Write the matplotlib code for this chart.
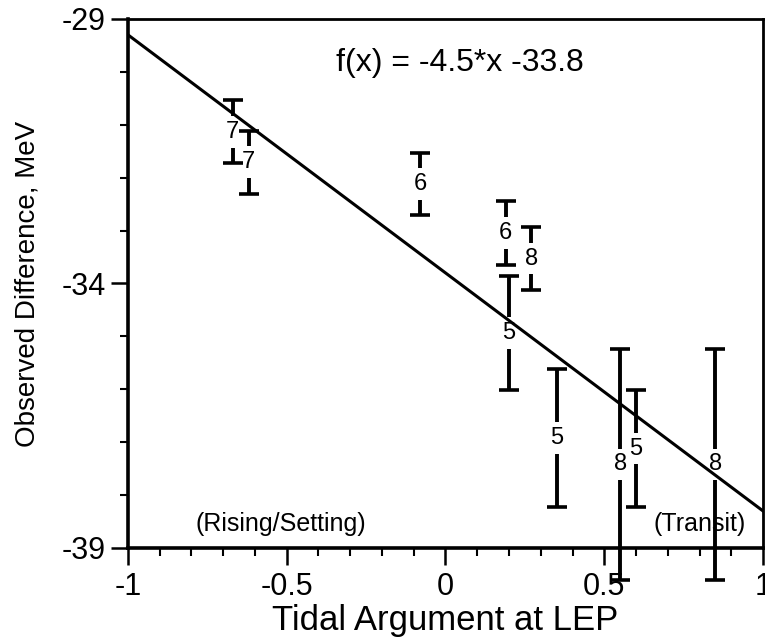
import matplotlib
matplotlib.use("Agg")
import matplotlib.pyplot as plt
from matplotlib.ticker import MultipleLocator, FixedLocator
import numpy as np

plt.rcParams['font.family'] = ['Liberation Sans', 'DejaVu Sans']

# tidal argument, observed difference (MeV), half error, fill number
tidal_arg = [-0.67, -0.62, -0.08, 0.19, 0.27, 0.20, 0.35, 0.55, 0.60, 0.85]
obs_diff = [-31.13, -31.71, -32.12, -33.05, -33.53, -34.93, -36.92, -37.42, -37.12, -37.42]
obs_err = [0.59, 0.59, 0.59, 0.61, 0.60, 1.08, 1.31, 2.19, 1.10, 2.19]
fill_no = ['7', '7', '6', '6', '8', '5', '5', '8', '5', '8']

slope = -4.5
intercept = -33.8

yticks = [-39, -34, -29]

fig = plt.figure(figsize=(7.65, 6.41), dpi=100)
ax = fig.add_axes([0.1673, 0.1451, 0.8301, 0.8253])

# linear fit across the whole range
xf = np.array([-1.0, 1.0])
ax.plot(xf, slope * xf + intercept, color='black', lw=2.2, zorder=5)

# error bars: caps from errorbar, the bar itself split around the fill number
x = np.array(tidal_arg)
y = np.array(obs_diff)
err = np.array(obs_err)
gap = 0.3
eb = ax.errorbar(x, y, yerr=err, fmt='none', ecolor='black',
                 capsize=7, capthick=2.6, zorder=2, clip_on=False)
eb[2][0].set_visible(False)
for cap in eb[1]:
    cap.set_clip_on(False)
ax.vlines(x, y - err, y - gap, colors='black', lw=2.8, zorder=2, clip_on=False)
ax.vlines(x, y + gap, y + err, colors='black', lw=2.8, zorder=2)
for xi, yi, n in zip(x, y, fill_no):
    ax.text(xi, yi, n, ha='center', va='center', fontsize=17, zorder=3)

ax.text(0.046, -29.83, 'f(x) = -4.5*x -33.8', ha='center', va='center', fontsize=23)
ax.text(-0.52, -38.55, '(Rising/Setting)', ha='center', va='center', fontsize=18)
ax.text(0.80, -38.55, '(Transit)', ha='center', va='center', fontsize=18)

ax.set_xlim(-1, 1)
ax.set_ylim(-39, -29)
ax.xaxis.set_major_locator(MultipleLocator(0.5))
ax.xaxis.set_minor_locator(MultipleLocator(0.1))
ax.yaxis.set_major_locator(FixedLocator(yticks))
ax.yaxis.set_minor_locator(MultipleLocator(1))
ax.xaxis.set_major_formatter(plt.FuncFormatter(lambda v, p: f'{v:g}'))
ax.yaxis.set_major_formatter(plt.FuncFormatter(lambda v, p: f'{v:g}'))

ax.tick_params(which='major', direction='out', length=12, width=1.8, labelsize=22, pad=4)
ax.tick_params(which='minor', direction='out', length=6, width=1.5)
ax.tick_params(axis='x', which='major', pad=5)

for side in ['left', 'bottom']:
    ax.spines[side].set_linewidth(2.6)
for side in ['top', 'right']:
    ax.spines[side].set_linewidth(2.0)

ax.set_xlabel('Tidal Argument at LEP', fontsize=25, labelpad=2)
ax.set_ylabel('Observed Difference, MeV', fontsize=20)
ax.yaxis.set_label_coords(-0.137, 0.5)

plt.savefig('out.png', dpi=100)
plt.close()
